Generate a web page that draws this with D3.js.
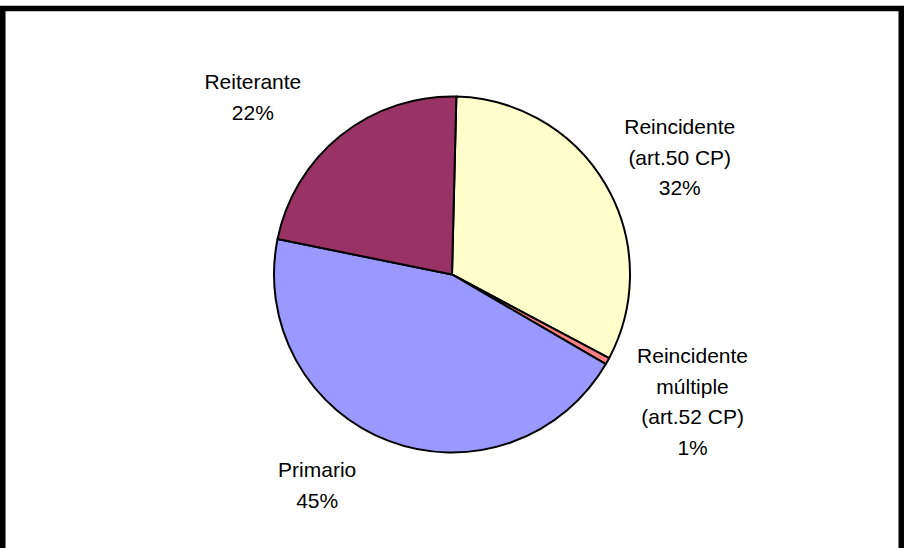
<!DOCTYPE html>
<html>
<head>
<meta charset="utf-8">
<script src="https://cdn.jsdelivr.net/npm/d3@7"></script>
<style>
  html, body { margin: 0; padding: 0; background: #fff; }
  svg { display: block; }
</style>
</head>
<body>
<svg id="chart" width="904" height="548"></svg>
<script>
// ---- data ----
const categories = ["Reincidente (art.50 CP)", "Reincidente múltiple (art.52 CP)", "Primario", "Reiterante"];
const labelLines = [["Reincidente", "(art.50 CP)"], ["Reincidente", "múltiple", "(art.52 CP)"], ["Primario"], ["Reiterante"]];
const values = [32.4, 0.6, 44.8, 22.2];
const percentLabels = ["32%", "1%", "45%", "22%"];
const colors = ["#FFFFCC", "#FF8080", "#9999FF", "#993366"];

// ---- layout ----
const W = 904, H = 548;
const cx = 452, cy = 274.5, R = 178;
const startOffset = 1.4 * Math.PI / 180;

const svg = d3.select("#chart");

// outer frame
svg.append("rect")
  .attr("x", 2.75).attr("y", 8.5)
  .attr("width", 898.5).attr("height", 600)
  .attr("fill", "none").attr("stroke", "#000").attr("stroke-width", 5.5);

const pie = d3.pie().sort(null).value(d => d)
  .startAngle(startOffset).endAngle(startOffset + 2 * Math.PI);
const arcs = pie(values);
const arc = d3.arc().innerRadius(0).outerRadius(R);

const g = svg.append("g").attr("transform", `translate(${cx},${cy})`);

g.selectAll("path.slice")
  .data(arcs)
  .enter().append("path")
  .attr("class", "slice")
  .attr("d", arc)
  .attr("fill", (d, i) => colors[i])
  .attr("stroke", "#000")
  .attr("stroke-width", 2)
  .attr("stroke-linejoin", "round");

// label placement: polar around centre (angle nudge in degrees, radius)
const labelAngleNudge = [3.1, -1.3, 11.8, -9.75];
const labelRadius = [256, 272, 250, 266.7];
const lineH = 30.5;

const labels = svg.append("g")
  .attr("font-family", "'Liberation Sans', Arial, sans-serif")
  .attr("font-size", 21)
  .attr("fill", "#000")
  .attr("text-anchor", "middle");

arcs.forEach((a, i) => {
  const mid = (a.startAngle + a.endAngle) / 2 + labelAngleNudge[i] * Math.PI / 180;
  const r = labelRadius[i];
  const lx = cx + r * Math.sin(mid);
  const ly = cy - r * Math.cos(mid);
  const lines = labelLines[i].concat([percentLabels[i]]);
  const top = ly - (lines.length - 1) * lineH / 2;
  const t = labels.append("text");
  lines.forEach((ln, k) => {
    t.append("tspan")
      .attr("x", lx)
      .attr("y", top + k * lineH)
      .attr("dy", "0.35em")
      .text(ln);
  });
});
</script>
</body>
</html>
